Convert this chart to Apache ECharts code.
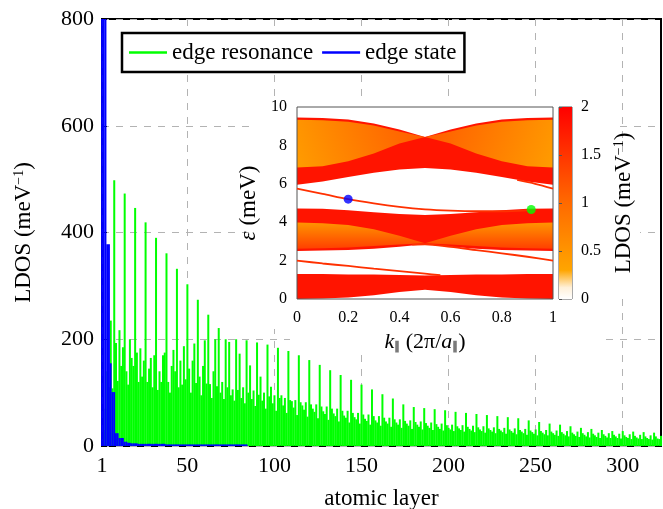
<!DOCTYPE html>
<html>
<head>
<meta charset="utf-8">
<script src="https://cdn.jsdelivr.net/npm/echarts@6/dist/echarts.min.js"></script>
<style>
html,body{margin:0;padding:0;background:#fff}
#chart{width:663px;height:509px}
</style>
</head>
<body>
<div id="chart"></div>
<script>
/* ---------- main panel data ---------- */
const layerTicks = [1, 50, 100, 150, 200, 250, 300];
// LDOS of the edge state, layers 1..84 (first layers run off the top)
const edgeStateLDOS = [
  1500,1500,1500,378,378,155,101,101,24,24,15,15,15,8,8,
  6,6,5,5,5,5,4,4,4,4,4,4,4,4,4,4,4,4,4,4,4,4,3,3,3,3,3,3,3,3,3,3,3,3,3,
  3,3,3,3,3,3,3,3,3,3,3,3,3,3,3,3,3,3,3,3,3,3,3,3,3,3,3,3,3,3,3,3,3,3
];
// LDOS of the edge resonance, layers 1..322, six layers per row
const edgeResonanceLDOS = [
    0,  30,  70, 140, 110, 235,
  108, 498, 193, 122, 217, 150,
  185, 473, 140, 115, 200, 165,
  150, 446, 175, 120, 183, 130,
  160, 419, 120, 145, 165, 110,
  170, 390, 105, 140, 120, 170,
  175, 361, 120, 100, 150, 180,
  140, 332, 110, 160, 115, 187,
  125, 303, 145, 100, 160, 192,
  118, 274, 130,  95, 150, 198,
  117, 246, 116,  90, 140, 200,
  112, 221, 100, 120,  88, 200,
  110, 195,  95, 106,  85, 200,
  105, 173,  90, 110,  80, 198,
  100, 151,  88, 104,  75, 194,
   96, 130,  85, 100,  70, 190,
   93, 111,  80,  95,  66, 184,
   90,  95,  76,  90,  62, 178,
   86,  84,  72,  86,  58, 170,
   82,  76,  68,  82,  55, 161,
   78,  70,  64,  78,  52, 152,
   74,  65,  60,  74,  49, 142,
   70,  61,  56,  70,  46, 133,
   66,  57,  53,  66,  44, 124,
   62,  54,  50,  62,  42, 115,
   59,  51,  47,  59,  40, 106,
   56,  48,  44,  56,  38,  97,
   53,  46,  42,  53,  36,  89,
   50,  44,  40,  50,  34,  78,
   47,  42,  38,  48,  32,  73,
   45,  40,  36,  46,  31,  71,
   43,  38,  34,  44,  30,  69,
   41,  36,  32,  42,  29,  67,
   39,  34,  31,  40,  28,  64,
   37,  33,  30,  39,  27,  62,
   36,  32,  29,  38,  26,  60,
   35,  31,  28,  37,  25,  58,
   33,  30,  27,  35,  24,  56,
   32,  29,  26,  34,  23,  54,
   31,  28,  25,  33,  22,  52,
   30,  27,  24,  32,  21,  48,
   29,  26,  23,  31,  20,  45,
   28,  25,  22,  30,  20,  42,
   27,  24,  21,  29,  19,  40,
   26,  23,  20,  28,  18,  37,
   25,  22,  19,  27,  17,  34,
   24,  21,  18,  26,  16,  32,
   23,  20,  17,  25,  15,  30,
   22,  19,  16,  24,  15,  28,
   21,  18,  15,  23,  14,  28,
   20,  17,  15,  22,  13,  27,
   19,  16,  14,  21,  13,  26,
   18,  15,  13,  20,  12,  25,
   18,  14,  13,  19
];

/* ---------- inset data (band structure) ---------- */
const kGrid   = [0, 0.1, 0.2, 0.3, 0.4, 0.5, 0.6, 0.7, 0.8, 0.9, 1];
const kLeft   = [0, 0.1, 0.2, 0.3, 0.4, 0.5];
const kRight  = [0.5, 0.6, 0.7, 0.8, 0.9, 1];
// upper band group
const topUpper = [9.45, 9.43, 9.35, 9.14, 8.83, 8.44, 8.83, 9.14, 9.35, 9.43, 9.45];
const topLower = [5.95, 6.12, 6.35, 6.58, 6.75, 6.82, 6.75, 6.58, 6.35, 6.12, 5.95];
const topLobeHiL = [9.33, 9.31, 9.23, 9.03, 8.73, 8.44];
const topLobeLoL = [6.85, 6.92, 7.18, 7.58, 8.10, 8.44];
const topLobeHiR = [8.44, 8.73, 9.03, 9.23, 9.31, 9.33];
const topLobeLoR = [8.44, 8.10, 7.58, 7.18, 6.92, 6.85];
// middle band group
const midUpper = [4.72, 4.70, 4.62, 4.52, 4.43, 4.38, 4.43, 4.52, 4.62, 4.70, 4.72];
const midLower = [2.50, 2.52, 2.55, 2.62, 2.72, 2.85, 2.72, 2.62, 2.55, 2.52, 2.50];
const midLobeHiL = [3.98, 3.95, 3.85, 3.63, 3.30, 2.90];
const midLobeLoL = [2.62, 2.64, 2.68, 2.76, 2.84, 2.90];
const midLobeHiR = [2.90, 3.30, 3.63, 3.85, 3.95, 3.98];
const midLobeLoR = [2.90, 2.84, 2.76, 2.68, 2.64, 2.62];
// lowest band group
const botUpper = [1.30, 1.30, 1.28, 1.27, 1.25, 1.22, 1.25, 1.27, 1.28, 1.30, 1.30];
const botLower = [0.00, 0.02, 0.08, 0.20, 0.36, 0.48, 0.36, 0.20, 0.08, 0.02, 0.00];
// edge-state branches
const surfA = [[0,5.75],[0.1,5.48],[0.2,5.2],[0.3,4.98],[0.4,4.8],[0.5,4.67],[0.6,4.6],[0.7,4.57],[0.8,4.57],[0.9,4.62]];
const surfB = [[0.86,6.2],[0.93,6.0],[1,5.75]];
const surfC = [[0,2.0],[0.1,1.85],[0.2,1.72],[0.3,1.58],[0.4,1.45],[0.5,1.32],[0.56,1.24]];
const surfD = [[0.45,2.83],[0.5,2.85],[0.6,2.72],[0.7,2.55],[0.8,2.38],[0.9,2.2],[1,2.0]];
const edgeStatePoint = [0.2, 5.2];
const edgeResonancePoint = [0.915, 4.66];
const colorbarTicks = [0, 0.5, 1, 1.5, 2];

/* ---------- helpers ---------- */
const FONT = 'Liberation Serif';
const RED = '#ff1400';

function bandPolygon(ks, lower, upper, fill, z){
  return {
    type:'custom', xAxisIndex:1, yAxisIndex:1, data:[0], silent:true, z:z, clip:true,
    renderItem:function(params, api){
      const pts = [];
      ks.forEach((k,i)=>pts.push(api.coord([k, upper[i]])));
      for(let i=ks.length-1;i>=0;i--) pts.push(api.coord([ks[i], lower[i]]));
      return {type:'polygon', shape:{points:pts}, style:{fill:fill, stroke:null}};
    }
  };
}
function edgeLine(pts){
  return {type:'line', xAxisIndex:1, yAxisIndex:1, data:pts, showSymbol:false, smooth:0.3,
    silent:true, z:12, lineStyle:{color:'#ff3000', width:1.8}};
}
function grad(x0,y0,x1,y1,c0,c1){
  return new echarts.graphic.LinearGradient(x0,y0,x1,y1,[{offset:0,color:c0},{offset:1,color:c1}]);
}

const chart = echarts.init(document.getElementById('chart'), null, {renderer:'canvas'});
chart.setOption({
  animation:false,
  textStyle:{fontFamily:FONT, color:'#000'},
  legend:{
    left:122, top:33, itemWidth:38, itemHeight:2.5, itemGap:9, icon:'rect',
    padding:[8,8,8,7], borderColor:'#000', borderWidth:2.5, backgroundColor:'#fff',
    textStyle:{fontFamily:FONT, fontSize:23, color:'#000'},
    data:['edge resonance','edge state']
  },
  graphic:[
    {type:'rect', z:5, silent:true, shape:{x:256, y:96, width:363, height:233}, style:{fill:'#fff'}},
    {type:'rect', z:5, silent:true, shape:{x:290, y:328, width:313, height:23}, style:{fill:'#fff'}},
    {type:'rect', z:5, silent:true, shape:{x:608, y:160, width:32, height:132}, style:{fill:'#fff'}}
  ],
  grid:[
    {left:102, right:2, top:19, bottom:63, outerBoundsMode:'none', show:true, borderColor:'#000', borderWidth:2, containLabel:false},
    {left:297, top:107, width:256, height:192, outerBoundsMode:'none', show:true, borderColor:'#555', borderWidth:1, z:10},
    {left:559, top:107, width:13, height:192, outerBoundsMode:'none', show:true, borderColor:'#555', borderWidth:1, z:10}
  ],
  xAxis:[
    {type:'value', gridIndex:0, min:1, max:322,
     axisLine:{show:false},
     axisTick:{inside:true, length:5, customValues:layerTicks, lineStyle:{color:'#000'}},
     axisLabel:{customValues:layerTicks, fontFamily:FONT, fontSize:22, color:'#000', margin:9},
     splitLine:{show:true, lineStyle:{color:'#b3b3b3', type:[7,7], width:1}},
     name:'atomic layer', nameLocation:'middle', nameGap:41,
     nameTextStyle:{fontFamily:FONT, fontSize:23, color:'#000'}},
    {type:'value', gridIndex:1, min:0, max:1, interval:0.2, z:10,
     axisLine:{show:false}, axisTick:{show:false},
     axisLabel:{fontFamily:FONT, fontSize:16, color:'#000', margin:11},
     splitLine:{show:false},
     name:'{i|k}{s|∥} (2π/{i|a}{s|∥})', nameLocation:'middle', nameGap:32,
     nameTextStyle:{fontFamily:FONT, fontSize:22, color:'#000',
       rich:{i:{fontFamily:FONT, fontSize:22, fontStyle:'italic'}, s:{fontFamily:FONT, fontSize:12, verticalAlign:'bottom', padding:[10,0,0,0]}}}},
    {type:'value', gridIndex:2, min:0, max:1, show:false}
  ],
  yAxis:[
    {type:'value', gridIndex:0, min:0, max:800, interval:200,
     axisLine:{show:false},
     axisTick:{show:true, inside:true, length:5, lineStyle:{color:'#000'}},
     axisLabel:{fontFamily:FONT, fontSize:22, color:'#000', margin:8},
     splitLine:{show:true, lineStyle:{color:'#b3b3b3', type:[7,7], width:1}},
     name:'LDOS (meV{sup|−1})', nameLocation:'middle', nameGap:66, nameRotate:90,
     nameTextStyle:{fontFamily:FONT, fontSize:23, color:'#000',
       rich:{sup:{fontFamily:FONT, fontSize:14, verticalAlign:'top', padding:[0,0,10,0]}}}},
    {type:'value', gridIndex:1, min:0, max:10, interval:2, z:10,
     axisLine:{show:false}, axisTick:{show:false},
     axisLabel:{fontFamily:FONT, fontSize:16, color:'#000', margin:10},
     splitLine:{show:false},
     name:'{i|ε} (meV)', nameLocation:'middle', nameGap:37, nameRotate:90,
     nameTextStyle:{fontFamily:FONT, fontSize:23, color:'#000',
       rich:{i:{fontFamily:FONT, fontSize:23, fontStyle:'italic'}}}},
    {type:'value', gridIndex:2, min:0, max:2, interval:0.5, position:'right', z:10,
     axisLine:{show:false},
     axisTick:{show:true, inside:false, length:3, lineStyle:{color:'#555'}},
     axisLabel:{fontFamily:FONT, fontSize:16, color:'#000', margin:9,
       customValues:colorbarTicks},
     splitLine:{show:false},
     name:'LDOS (meV{sup|−1})', nameLocation:'middle', nameGap:40, nameRotate:90,
     nameTextStyle:{fontFamily:FONT, fontSize:23, color:'#000',
       rich:{sup:{fontFamily:FONT, fontSize:14, verticalAlign:'top', padding:[0,0,10,0]}}}}
  ],
  series:[
    {name:'edge resonance', type:'bar', xAxisIndex:0, yAxisIndex:0, barWidth:2.0, barGap:'-100%',
     itemStyle:{color:'#00ff00'}, data:edgeResonanceLDOS.map((v,i)=>[i+1, v]), z:2},
    {name:'edge state', type:'bar', xAxisIndex:0, yAxisIndex:0, barWidth:1.9, barGap:'-100%',
     itemStyle:{color:'#0000ff'}, data:edgeStateLDOS.map((v,i)=>[i+1, v]), z:3},

    // inset bands
    bandPolygon(kGrid, topLower, topUpper, RED, 8),
    bandPolygon(kLeft, topLobeLoL, topLobeHiL, grad(0,1,1,0,'#ff9c00','#ff5a00'), 9),
    bandPolygon(kRight, topLobeLoR, topLobeHiR, grad(1,1,0,0,'#ff9c00','#ff5a00'), 9),
    bandPolygon(kGrid, midLower, midUpper, RED, 8),
    bandPolygon(kLeft, midLobeLoL, midLobeHiL, grad(0,0,0,1,'#ff9400','#ff4000'), 9),
    bandPolygon(kRight, midLobeLoR, midLobeHiR, grad(0,0,0,1,'#ff9400','#ff4000'), 9),
    bandPolygon(kGrid, botLower, botUpper, RED, 8),
    edgeLine(surfA), edgeLine(surfB), edgeLine(surfC), edgeLine(surfD),
    {type:'scatter', xAxisIndex:1, yAxisIndex:1, data:[edgeStatePoint], symbolSize:9,
     itemStyle:{color:'#0000ff'}, z:13, silent:true},
    {type:'scatter', xAxisIndex:1, yAxisIndex:1, data:[edgeResonancePoint], symbolSize:9,
     itemStyle:{color:'#00ff00'}, z:13, silent:true},

    // colour bar
    {type:'custom', xAxisIndex:2, yAxisIndex:2, data:[0], silent:true, z:10,
     renderItem:function(params, api){
       const a = api.coord([0, 2]), b = api.coord([1, 0]);
       return {type:'rect', shape:{x:a[0], y:a[1], width:b[0]-a[0], height:b[1]-a[1]},
         style:{fill:new echarts.graphic.LinearGradient(0,1,0,0,[
           {offset:0,color:'#ffffff'},{offset:0.06,color:'#fff0d8'},{offset:0.15,color:'#ffa500'},
           {offset:0.5,color:'#ff6a00'},{offset:1,color:'#ff0000'}])}};
     }}
  ]
});
</script>
</body>
</html>
